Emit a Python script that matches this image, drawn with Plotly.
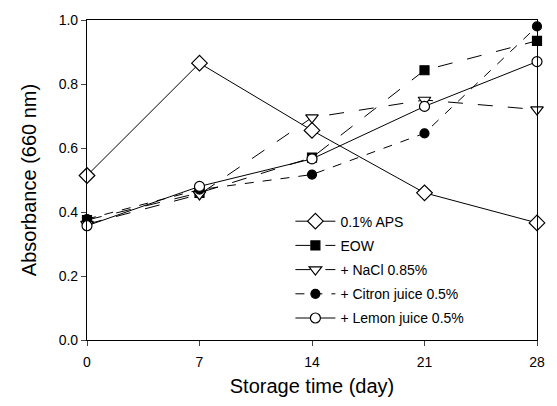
import plotly.graph_objects as go

days = [0, 7, 14, 21, 28]
series_names = ["0.1% APS", "EOW", "+ NaCl 0.85%", "+ Citron juice 0.5%", "+ Lemon juice 0.5%"]
aps = [0.514, 0.865, 0.655, 0.46, 0.366]
eow = [0.375, 0.46, 0.57, 0.843, 0.935]
nacl = [0.362, 0.455, 0.695, 0.75, 0.72]
citron = [0.378, 0.47, 0.517, 0.646, 0.98]
lemon = [0.357, 0.48, 0.566, 0.73, 0.87]
y_ticks = [0.0, 0.2, 0.4, 0.6, 0.8, 1.0]
y_tick_labels = ["0.0", "0.2", "0.4", "0.6", "0.8", "1.0"]

styles = [
    dict(symbol="diamond", size=12, dash="solid", fill="white"),
    dict(symbol="square", size=9, dash="longdash", fill="black"),
    dict(symbol="triangle-down", size=11, dash="longdash", fill="white"),
    dict(symbol="circle", size=9, dash="dash", fill="black"),
    dict(symbol="circle", size=10, dash="solid", fill="white"),
]

fig = go.Figure()
for i, (name, vals) in enumerate(zip(series_names, [aps, eow, nacl, citron, lemon])):
    st = styles[i]
    fig.add_trace(go.Scatter(
        x=days, y=vals, name=name, mode="lines+markers",
        legendgroup=f"g{i}",
        line=dict(color="black", width=1, dash=st["dash"]),
        marker=dict(symbol=st["symbol"], size=st["size"], color=st["fill"],
                    line=dict(color="black", width=1.2)),
        cliponaxis=False,
    ))

font_family = "Arial, Liberation Sans, sans-serif"
fig.update_layout(
    width=557, height=406,
    margin=dict(l=87, r=17, t=16, b=65),
    paper_bgcolor="white", plot_bgcolor="white",
    font=dict(family=font_family, color="black", size=14),
    showlegend=True,
    legend=dict(x=0.452, y=0.42, xanchor="left", yanchor="top",
                bgcolor="rgba(0,0,0,0)", font=dict(size=14, family=font_family),
                tracegroupgap=3, itemwidth=40),
    xaxis=dict(range=[0, 28], tickvals=days, ticks="outside", ticklen=5, tickwidth=1,
               ticklabelstandoff=4,
               showline=True, linecolor="black", linewidth=1.2, mirror=True,
               showgrid=False, zeroline=False,
               title=dict(text="Storage time (day)", font=dict(size=20), standoff=10),
               tickfont=dict(size=14)),
    yaxis=dict(range=[0, 1], tickvals=y_ticks, ticktext=y_tick_labels, ticks="outside", ticklen=5, tickwidth=1,
               showline=True, linecolor="black", linewidth=1.2, mirror=True,
               showgrid=False, zeroline=False,
               title=dict(text="Absorbance (660 nm)", font=dict(size=20), standoff=16),
               tickfont=dict(size=14)),
)

fig.write_html("out.html")
